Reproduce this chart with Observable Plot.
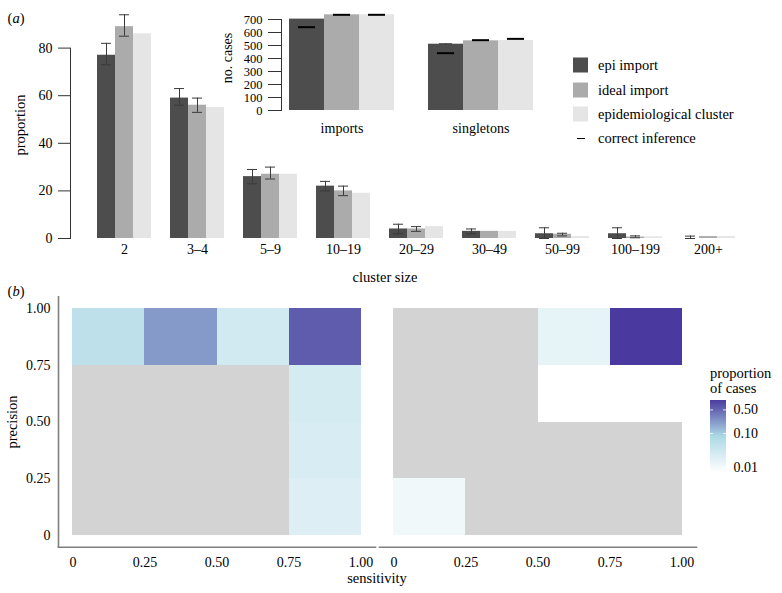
<!DOCTYPE html>
<html><head><meta charset="utf-8">
<script src="https://cdn.jsdelivr.net/npm/d3@7"></script>
<script src="https://cdn.jsdelivr.net/npm/@observablehq/plot@0.6"></script>
<style>
body{margin:0;background:#fff;font-family:"Liberation Serif","Times New Roman","DejaVu Serif",serif;color:#000;}
#root{position:relative;width:782px;height:593px;overflow:hidden;background:#fff;}
.lbl{position:absolute;white-space:nowrap;font-size:14.5px;transform:translate(-50%,-50%);line-height:1;}
.rot{transform:translate(-50%,-50%) rotate(-90deg);}
.leg{position:absolute;white-space:nowrap;font-size:14.5px;transform:translateY(-50%);line-height:1;}
.sw{position:absolute;width:15px;height:15px;transform:translateY(-50%);}
</style></head><body><div id="root"></div>
<script>
// ---------- data: panel (a) ----------
const clusters = ["2","3–4","5–9","10–19","20–29","30–49","50–99","100–199","200+"];
const epiImport   = [77, 59, 26, 22, 4, 3, 2, 2, 0];
const epiLow      = [73, 56, 23, 20, 2, 2, 0, 0, 0];
const epiHigh     = [82, 63, 29, 24, 6, 4, 4.5, 4.5, 1];
const idealImport = [89, 56, 27, 20, 4, 3, 1.8, 0.6, 0.8];
const idealLow    = [85, 53, 25, 18, 3, null, 1.1, 0.3, null];
const idealHigh   = [94, 59, 30, 22, 5, null, 2.2, 1.1, null];
const epiCluster  = [86, 55, 27, 19, 5, 3, 0.8, 0.7, 0.8];
const propTicks = [0, 20, 40, 60, 80];

// inset
const sets = ["imports", "singletons"];
const epiCases = [703, 510];
const epiCasesLow = [null, 507];
const epiCasesHigh = [null, 513];
const idealCases = [736, 536];
const clusterCases = [736, 538];
const epiCorrect = [641, 441];
const idealCorrect = [736, 541];
const clusterCorrect = [736, 551];
const caseTicks = [0, 100, 200, 300, 400, 500, 600, 700];

const seriesNames = ["epi import", "ideal import", "epidemiological cluster"];
const seriesFill = ["#4d4d4d", "#ababab", "#e5e5e5"];

// ---------- data: panel (b) ----------
const sensitivityBins = [0, 0.25, 0.5, 0.75];
const precisionBins = [0, 0.25, 0.5, 0.75];
const binWidth = 0.25;
// rows: precision bin (bottom -> top); columns: sensitivity bin. null = not available (grey), 0 = none (blank)
const leftProp = [
  [null, null, null, 0.018],
  [null, null, null, 0.021],
  [null, null, null, 0.024],
  [0.048, 0.21, 0.026, 0.56]
];
const rightProp = [
  [0.0104, null, null, null],
  [null, null, null, null],
  [null, null, 0, 0],
  [null, null, 0.0138, 0.95]
];
const axisTicks = [0, 0.25, 0.5, 0.75, 1];
const colorDomain = [0.0065, 0.95];
const colorTicks = [0.01, 0.1, 0.5];
const colorStops = ["#ffffff", "#add8e6", "#4a3a9f"];

// ---------- helpers ----------
const root = document.getElementById("root");
function place(node, left, top) {
  node.style.position = "absolute";
  node.style.left = left + "px";
  node.style.top = top + "px";
  root.appendChild(node);
  return node;
}
function html(cls, text, left, top, extra) {
  const d = document.createElement("div");
  d.className = cls;
  d.innerHTML = text;
  d.style.left = left + "px";
  d.style.top = top + "px";
  if (extra) Object.assign(d.style, extra);
  root.appendChild(d);
  return d;
}
const svgStyle = (fs) => ({fontFamily: "'Liberation Serif', 'Times New Roman', serif", fontSize: fs, background: "transparent", overflow: "visible", color: "#000"});

// ---------- panel (a) main ----------
function rows(cats, vals, lo, hi) {
  return cats.map((c, i) => ({cat: c, value: vals[i], lo: lo ? lo[i] : null, hi: hi ? hi[i] : null}));
}
const epiRows = rows(clusters, epiImport, epiLow, epiHigh);
const idealRows = rows(clusters, idealImport, idealLow, idealHigh);
const clusterRows = rows(clusters, epiCluster);

function errMarks(data, dx, inset, caps) {
  const d = data.filter(r => r.lo != null && r.hi != null);
  const st = {stroke: "#3a3a3a", strokeWidth: 1};
  const out = [Plot.ruleX(d, {x: "cat", y1: "lo", y2: "hi", dx, ...st})];
  if (caps !== "hi") out.push(Plot.tickY(d, {x: "cat", y: "lo", dx, insetLeft: inset, insetRight: inset, ...st}));
  out.push(Plot.tickY(d, {x: "cat", y: "hi", dx, insetLeft: inset, insetRight: inset, ...st}));
  return out;
}

const topPlot = Plot.plot({
  width: 782, height: 290,
  marginLeft: 70, marginRight: 20, marginTop: 47.6, marginBottom: 52,
  style: svgStyle("14px"),
  x: {domain: clusters, paddingInner: 0.754, paddingOuter: 0.6, label: null},
  y: {domain: [0, 80], label: null},
  marks: [
    Plot.barY(epiRows, {x: "cat", y: "value", fill: seriesFill[0], dx: -18}),
    Plot.barY(idealRows, {x: "cat", y: "value", fill: seriesFill[1]}),
    Plot.barY(clusterRows, {x: "cat", y: "value", fill: seriesFill[2], dx: 18}),
    ...errMarks(epiRows, -18, 4),
    ...errMarks(idealRows, 0, 4),
    Plot.axisY({ticks: propTicks, tickSize: 12, tickPadding: 6, stroke: "#333", label: null}),
    Plot.axisX({tickSize: 0, tickPadding: 6, label: null}),
    Plot.frame({anchor: "left", stroke: "#333"})
  ]
});
place(topPlot, 0, 0);

// ---------- inset ----------
const iEpi = rows(sets, epiCases, epiCasesLow, epiCasesHigh);
const iIdeal = rows(sets, idealCases);
const iCluster = rows(sets, clusterCases);
const iEpiC = rows(sets, epiCorrect);
const iIdealC = rows(sets, idealCorrect);
const iClusterC = rows(sets, clusterCorrect);
const correctStyle = {insetLeft: 9, insetRight: 9, stroke: "#000", strokeWidth: 2};
const insetPlot = Plot.plot({
  width: 350, height: 140,
  marginLeft: 71, marginRight: 19, marginTop: 19, marginBottom: 30,
  style: svgStyle("12.5px"),
  x: {domain: sets, paddingInner: 0.748, paddingOuter: 0.309, label: null},
  y: {domain: [0, 700], label: null},
  marks: [
    Plot.barY(iEpi, {x: "cat", y: "value", fill: seriesFill[0], dx: -35}),
    Plot.barY(iIdeal, {x: "cat", y: "value", fill: seriesFill[1]}),
    Plot.barY(iCluster, {x: "cat", y: "value", fill: seriesFill[2], dx: 35}),
    ...errMarks(iEpi, -35, 11, "hi"),
    Plot.tickY(iEpiC, {x: "cat", y: "value", dx: -35, ...correctStyle}),
    Plot.tickY(iIdealC, {x: "cat", y: "value", ...correctStyle}),
    Plot.tickY(iClusterC, {x: "cat", y: "value", dx: 35, ...correctStyle}),
    Plot.axisY({ticks: caseTicks, tickSize: 13, tickPadding: 6, stroke: "#333", label: null}),
    Plot.axisX({tickSize: 0, tickPadding: 13, fontSize: 14, label: null}),
    Plot.frame({anchor: "left", stroke: "#333"})
  ]
});
place(insetPlot, 210, 0);

// legend (a)
const legRows = [65, 90, 114, 138];
seriesNames.forEach((n, i) => {
  const s = document.createElement("div");
  s.className = "sw";
  s.style.left = "573px"; s.style.top = legRows[i] + "px"; s.style.background = seriesFill[i];
  root.appendChild(s);
  html("leg", n, 598, legRows[i]);
});
const dash = document.createElement("div");
dash.style.cssText = "position:absolute;left:577px;width:8px;height:1.5px;background:#000;top:" + (legRows[3] - 0.5) + "px";
root.appendChild(dash);
html("leg", "correct inference", 598, legRows[3]);

// titles (a)
html("lbl", "(<i>a</i>)", 16, 18);
html("lbl rot", "proportion", 20, 125);
html("lbl rot", "no. cases", 228, 58, {fontSize: "14px"});
html("lbl", "cluster size", 385, 277);

// ---------- panel (b) ----------
const colorScale = {type: "log", domain: colorDomain, interpolate: d3.piecewise(d3.interpolateRgb, colorStops)};
function cells(grid) {
  const out = [];
  grid.forEach((row, r) => row.forEach((v, c) => out.push({s: sensitivityBins[c], p: precisionBins[r], v})));
  return out;
}
const fmt = d => d === 0 ? "0" : d.toFixed(2);
function heat(grid, withY, mLeft, mRight, width) {
  const cs = cells(grid);
  const marks = [
    Plot.rect(cs.filter(d => d.v === null), {x1: "s", x2: d => d.s + binWidth, y1: "p", y2: d => d.p + binWidth, fill: "#d3d3d3", shapeRendering: "crispEdges"}),
    Plot.rect(cs.filter(d => d.v > 0), {x1: "s", x2: d => d.s + binWidth, y1: "p", y2: d => d.p + binWidth, fill: "v", shapeRendering: "crispEdges"}),
    Plot.axisX({ticks: axisTicks, tickFormat: fmt, tickSize: 0, tickPadding: 10, label: null}),
    Plot.frame({anchor: "bottom", stroke: "#7f7f7f", strokeWidth: 1.6})
  ];
  if (withY) {
    marks.push(Plot.axisY({ticks: axisTicks, tickFormat: fmt, tickSize: 0, tickPadding: 8, label: null}));
    marks.push(Plot.frame({anchor: "left", stroke: "#7f7f7f", strokeWidth: 1.6}));
  }
  return Plot.plot({
    width, height: 300,
    marginLeft: mLeft, marginRight: mRight, marginTop: 11.3, marginBottom: 38.3,
    style: svgStyle("14px"),
    x: {domain: [-0.05, 1.05], label: null},
    y: {domain: [-0.05, 1.05], label: null, axis: withY ? undefined : null},
    color: colorScale,
    marks
  });
}
place(heat(leftProp, true, 58, 3, 378), 0, 285);
place(heat(rightProp, false, 1, 2, 320), 378, 285);

html("lbl", "(<i>b</i>)", 16, 291);
html("lbl rot", "precision", 12, 422);
html("lbl", "sensitivity", 377, 578);

// color legend (vertical colour bar drawn through the same log colour scale)
const lo = Math.log10(colorDomain[0]), hi = Math.log10(colorDomain[1]);
const ramp = d3.range(120).map(i => ({a: Math.pow(10, lo + (hi - lo) * i / 120), b: Math.pow(10, lo + (hi - lo) * (i + 1) / 120)}));
const legPlot = Plot.plot({
  width: 82, height: 95,
  marginLeft: 10, marginRight: 56, marginTop: 10, marginBottom: 12,
  style: svgStyle("14px"),
  x: {axis: null},
  y: {type: "log", domain: colorDomain, axis: null},
  color: colorScale,
  marks: [
    Plot.rect(ramp, {y1: "a", y2: "b", fill: "a", shapeRendering: "crispEdges"}),
    Plot.tickY(colorTicks, {y: d => d, stroke: "white", strokeOpacity: 0.8, insetRight: 13}),
    Plot.tickY(colorTicks, {y: d => d, stroke: "white", strokeOpacity: 0.8, insetLeft: 13}),
    Plot.text(colorTicks, {y: d => d, text: d => d.toFixed(2), frameAnchor: "right", textAnchor: "start", dx: 7, fill: "#000"})
  ]
});
place(legPlot, 700, 390);
html("leg", "proportion", 710, 373);
html("leg", "of cases", 710, 388);
</script></body></html>
